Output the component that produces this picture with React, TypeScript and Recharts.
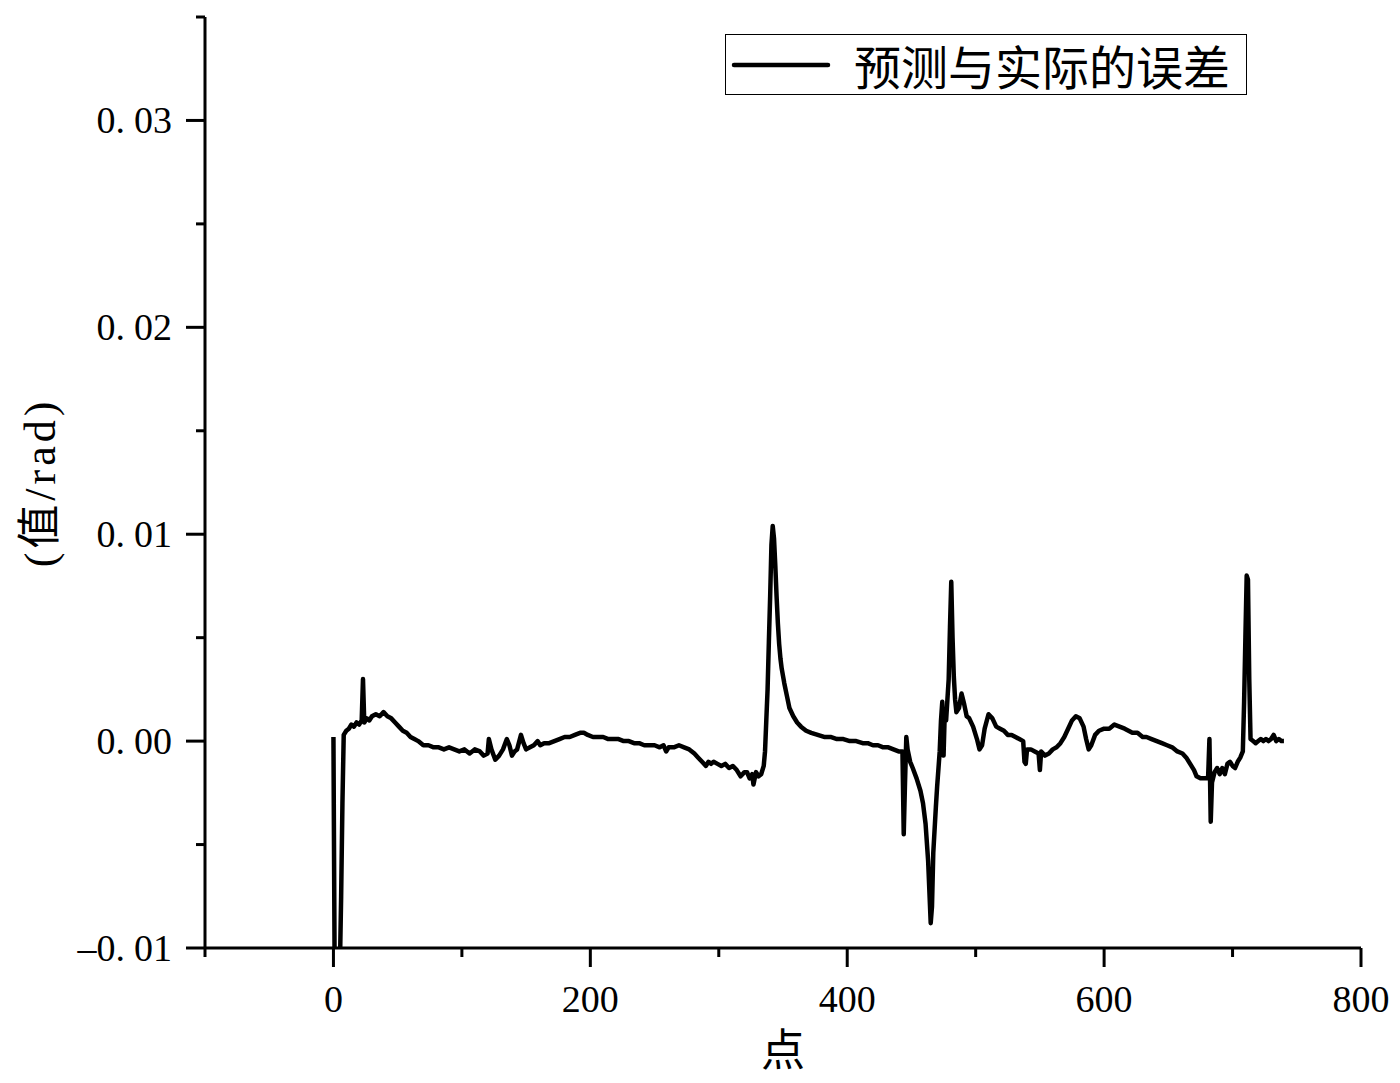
import { LineChart, Line, XAxis, YAxis, Legend } from "recharts";

// sample index along the run
const points = [
  0, 1, 2, 4, 5, 6, 7, 8, 10, 12, 14, 16, 18, 20, 22, 23, 24, 26, 28, 30, 33, 36, 39, 42, 45, 48, 51, 54, 57, 60,
  63, 66, 70, 74, 78, 82, 86, 90, 94, 98, 102, 106, 110, 114, 117, 120, 121, 123, 126, 129, 132, 135, 137, 139,
  141, 143, 146, 148, 150, 153, 156, 159, 161, 164, 168, 172, 176, 180, 184, 188, 192, 195, 198, 202, 206, 210,
  214, 218, 222, 226, 230, 234, 238, 242, 246, 250, 254, 257, 259, 261, 265, 269, 273, 277, 281, 284, 287, 290,
  292, 294, 296, 299, 302, 305, 308, 311, 314, 317, 320, 322, 324, 326, 327, 329, 331, 333, 335, 336, 337, 338,
  339, 340, 341, 342, 343, 344, 345, 346, 347, 348, 349, 351, 353, 355, 358, 361, 364, 368, 372, 377, 382, 387,
  392, 397, 402, 407, 412, 416, 420, 424, 428, 432, 436, 440, 443, 444, 445, 446, 447, 449, 451, 454, 457, 459,
  461, 463, 465, 466, 467, 469, 470, 472, 473, 474, 475, 476, 477, 478, 479, 480, 481, 482, 483, 484, 485, 487,
  489, 491, 493, 495, 498, 501, 503, 505, 507, 510, 513, 516, 519, 522, 525, 528, 531, 534, 537, 538, 539, 540,
  543, 546, 549, 550, 551, 554, 557, 560, 563, 566, 569, 572, 575, 578, 581, 584, 586, 588, 590, 593, 596, 600,
  604, 608, 612, 616, 619, 622, 626, 630, 633, 637, 641, 645, 649, 653, 657, 661, 664, 667, 670, 672, 675, 678,
  680, 681, 682, 683, 684, 686, 688, 690, 692, 694, 696, 698, 700, 702, 704, 706, 708, 709, 710, 711, 712, 713,
  714, 716, 718, 720, 722, 724, 726, 728, 730, 732, 734, 736, 738, 740,
];

// prediction minus actual, rad
const errors = [
  0.0002, -0.0118, -0.012, -0.012, -0.011, -0.0075, -0.003, 0.0003, 0.0005, 0.0006, 0.0008, 0.0007, 0.0009,
  0.0008, 0.001, 0.003, 0.0009, 0.0011, 0.001, 0.0012, 0.0013, 0.0012, 0.0014, 0.0012, 0.0011, 0.0009, 0.0007,
  0.0005, 0.0004, 0.0002, 0.0001, 0.0, -0.0002, -0.0002, -0.0003, -0.0003, -0.0004, -0.0003, -0.0004, -0.0005,
  -0.0004, -0.0006, -0.0004, -0.0005, -0.0007, -0.0006, 0.0001, -0.0004, -0.0009, -0.0007, -0.0004, 0.0001,
  -0.0002, -0.0007, -0.0005, -0.0004, 0.0003, -0.0001, -0.0004, -0.0003, -0.0002, 0.0, -0.0002, -0.0001,
  -0.0001, 0.0, 0.0001, 0.0002, 0.0002, 0.0003, 0.0004, 0.0004, 0.0003, 0.0002, 0.0002, 0.0002, 0.0001, 0.0001,
  0.0001, 0.0, 0.0, -0.0001, -0.0001, -0.0002, -0.0002, -0.0002, -0.0003, -0.0002, -0.0005, -0.0003, -0.0003,
  -0.0002, -0.0003, -0.0004, -0.0006, -0.0008, -0.001, -0.0012, -0.001, -0.0011, -0.001, -0.0011, -0.0012,
  -0.0011, -0.0013, -0.0012, -0.0014, -0.0017, -0.0015, -0.0015, -0.0018, -0.0016, -0.0021, -0.0015, -0.0017,
  -0.0016, -0.0012, -0.0005, 0.001, 0.0025, 0.0048, 0.007, 0.0095, 0.0104, 0.0098, 0.0085, 0.007, 0.0057,
  0.0047, 0.004, 0.0035, 0.0028, 0.0022, 0.0016, 0.0012, 0.0009, 0.0007, 0.0005, 0.0004, 0.0003, 0.0002,
  0.0002, 0.0001, 0.0001, 0.0, 0.0, -0.0001, -0.0001, -0.0002, -0.0002, -0.0003, -0.0003, -0.0004, -0.0005,
  -0.0005, -0.0045, -0.002, 0.0002, -0.0004, -0.001, -0.0013, -0.0018, -0.0024, -0.003, -0.004, -0.0058,
  -0.0088, -0.008, -0.0054, -0.0032, -0.0022, -0.0005, 0.001, 0.0019, -0.0007, 0.0015, 0.001, 0.002, 0.003,
  0.0055, 0.0077, 0.005, 0.0031, 0.002, 0.0014, 0.0016, 0.0023, 0.0018, 0.0012, 0.0011, 0.0007, 0.0001,
  -0.0004, -0.0002, 0.0006, 0.0013, 0.0011, 0.0007, 0.0006, 0.0005, 0.0003, 0.0003, 0.0002, 0.0001, 0.0,
  -0.001, -0.0011, -0.0004, -0.0004, -0.0005, -0.0006, -0.0014, -0.0005, -0.0007, -0.0006, -0.0004, -0.0003,
  -0.0001, 0.0002, 0.0006, 0.001, 0.0012, 0.0011, 0.0007, 0.0001, -0.0004, -0.0002, 0.0003, 0.0005, 0.0006,
  0.0006, 0.0008, 0.0007, 0.0006, 0.0005, 0.0004, 0.0004, 0.0002, 0.0002, 0.0001, 0.0, -0.0001, -0.0002,
  -0.0003, -0.0005, -0.0006, -0.0008, -0.0011, -0.0014, -0.0017, -0.0018, -0.0018, -0.0018, -0.0017, 0.0001,
  -0.0039, -0.002, -0.0015, -0.0013, -0.0016, -0.0013, -0.0016, -0.0011, -0.001, -0.0012, -0.0013, -0.001,
  -0.0008, -0.0005, 0.0019, 0.005, 0.008, 0.0078, 0.003, 0.0001, 0.0, -0.0001, 0.0, 0.0001, 0.0, 0.0001, 0.0,
  0.0001, 0.0003, 0.0, 0.0001, 0.0, 0.0,
];

const xTicks = [-100, 0, 100, 200, 300, 400, 500, 600, 700, 800];
const yTicks = [-0.01, -0.005, 0, 0.005, 0.01, 0.015, 0.02, 0.025, 0.03, 0.035];

const seriesName = "预测与实际的误差";

const data = points.map((p, i) => ({ p, err: errors[i] }));

const numFont = "'Liberation Serif', 'Noto Sans CJK SC', serif";
const cjkFont = "'Noto Sans CJK SC', 'Liberation Serif', serif";

function XTick(props: any) {
  const { x, y, payload } = props;
  const v = payload.value;
  const major = v % 200 === 0;
  return (
    <g>
      <line x1={x} x2={x} y1={y} y2={y + (major ? 19 : 9)} stroke="#000" strokeWidth={3} />
      {major && (
        <text x={x} y={y + 64} textAnchor="middle" fontFamily={numFont} fontSize={38} fill="#000">
          {v}
        </text>
      )}
    </g>
  );
}

function YTick(props: any) {
  const { x, y, payload } = props;
  const v = payload.value;
  const major = Math.abs(v * 100 - Math.round(v * 100)) < 1e-6;
  const s = v.toFixed(2).replace("-", "\u2013");
  const dot = s.indexOf(".");
  return (
    <g>
      <line x1={x - (major ? 19 : 9)} x2={x} y1={y} y2={y} stroke="#000" strokeWidth={3} />
      {major && (
        <text x={x - 33} y={y + 13} textAnchor="end" fontFamily={numFont} fontSize={38} fill="#000">
          <tspan>{s.slice(0, dot + 1)}</tspan>
          <tspan dx={9}>{s.slice(dot + 1)}</tspan>
        </text>
      )}
    </g>
  );
}

function LegendBox() {
  return (
    <div
      style={{
        boxSizing: "border-box",
        width: 522,
        height: 61,
        border: "1.5px solid #000",
        background: "#fff",
        display: "flex",
        alignItems: "center",
      }}
    >
      <svg width={118} height={58} style={{ flex: "none" }}>
        <line x1={8} x2={102} y1={29} y2={29} stroke="#000" strokeWidth={4.5} strokeLinecap="round" />
      </svg>
      <span style={{ fontFamily: cjkFont, fontSize: 47, lineHeight: 1, marginLeft: 10, color: "#000" }}>
        {seriesName}
      </span>
    </div>
  );
}

export default function App() {
  return (
    <div style={{ position: "absolute", left: 0, top: 0, width: 1400, height: 1083, background: "#fff" }}>
      <LineChart width={1400} height={1083} data={data} margin={{ top: 17, right: 39, left: 85, bottom: 55 }}>
        <XAxis
          dataKey="p"
          type="number"
          domain={[-100, 800]}
          ticks={xTicks}
          interval={0}
          height={80}
          tickSize={0}
          tickMargin={0}
          tickLine={false}
          tick={<XTick />}
          axisLine={{ stroke: "#000", strokeWidth: 3 }}
          label={(p: any) => {
            const vb = p.viewBox;
            return (
              <text
                x={vb.x + vb.width / 2}
                y={vb.y + 118}
                textAnchor="middle"
                fontFamily={cjkFont}
                fontSize={44}
                fill="#000"
              >
                点
              </text>
            );
          }}
        />
        <YAxis
          type="number"
          domain={[-0.01, 0.035]}
          allowDataOverflow
          ticks={yTicks}
          interval={0}
          width={120}
          tickSize={0}
          tickMargin={0}
          tickLine={false}
          tick={<YTick />}
          axisLine={{ stroke: "#000", strokeWidth: 3 }}
          label={(p: any) => {
            const vb = p.viewBox;
            const cx = vb.x - 45;
            const cy = vb.y + vb.height / 2;
            return (
              <text
                x={cx}
                y={cy}
                transform={`rotate(-90 ${cx} ${cy})`}
                textAnchor="middle"
                dominantBaseline="central"
                fontFamily={numFont}
                fontSize={44}
                letterSpacing={4}
                fill="#000"
              >
                (值/rad)
              </text>
            );
          }}
        />
        <Legend
          layout="horizontal"
          verticalAlign="middle"
          align="center"
          content={<LegendBox />}
          wrapperStyle={{ position: "absolute", left: 725, top: 34, width: 522, height: 61 }}
        />
        <Line
          type="linear"
          dataKey="err"
          name={seriesName}
          stroke="#000"
          strokeWidth={4.5}
          strokeLinejoin="round"
          dot={false}
          activeDot={false}
          isAnimationActive={false}
        />
      </LineChart>
    </div>
  );
}
